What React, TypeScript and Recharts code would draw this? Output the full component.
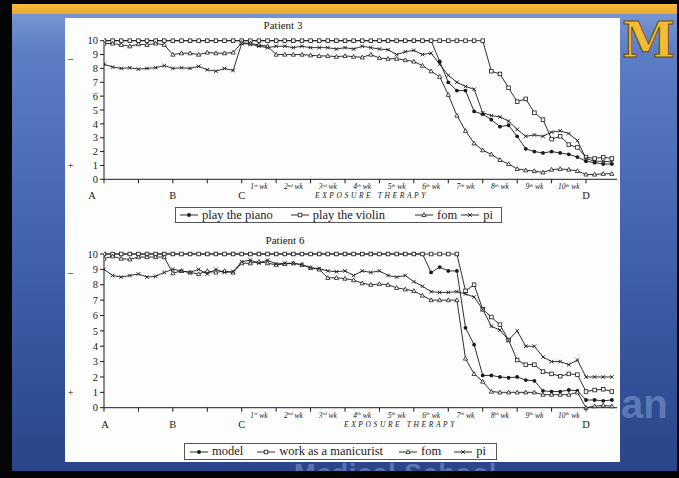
import React from 'react';
import { LineChart, Line, XAxis, YAxis } from 'recharts';

// one x unit = one tick interval (A..B..C, then one unit per therapy week)
const STEP = 0.25;

const intervalTicks = [0, 1, 2, 3, 4, 5, 6, 7, 8, 9, 10, 11, 12, 13, 14];
const weekTicks = [4.5, 5.5, 6.5, 7.5, 8.5, 9.5, 10.5, 11.5, 12.5, 13.5];
const weekNums = ['1', '2', '3', '4', '5', '6', '7', '8', '9', '10'];
const weekSuffix = ['st', 'nd', 'rd', 'th', 'th', 'th', 'th', 'th', 'th', 'th'];
const phaseTicks = [0, 2, 4, 14];
const phaseLabels = ['A', 'B', 'C', 'D'];
const yTicks = [0, 1, 2, 3, 4, 5, 6, 7, 8, 9, 10];
const sideMarkAt = [9, 1];
const sideMarkGlyph = ['\u2013', '+'];

// Patient 3 (one row per tick interval, 4 readings each)
const piano3 = [
  10, 10, 10, 10,
  10, 10, 10, 10,
  10, 10, 10, 10,
  10, 10, 10, 10,
  10, 10, 10, 10,
  10, 10, 10, 10,
  10, 10, 10, 10,
  10, 10, 10, 10,
  10, 10, 10, 10,
  10, 10, 10, 8.5,
  7.0, 6.4, 6.4, 4.9,
  4.7, 4.3, 3.8, 3.9,
  3.1, 2.2, 2.0, 1.9,
  2.0, 1.9, 1.8, 1.6,
  1.3, 1.2, 1.1, 1.1,
];
const violin3 = [
  10, 10, 10, 10,
  10, 10, 10, 10,
  10, 10, 10, 10,
  10, 10, 10, 10,
  10, 10, 10, 10,
  10, 10, 10, 10,
  10, 10, 10, 10,
  10, 10, 10, 10,
  10, 10, 10, 10,
  10, 10, 10, 10,
  10, 10, 10, 10,
  10, 7.8, 7.6, 6.6,
  5.6, 5.8, 4.8, 4.3,
  2.9, 3.1, 2.5, 2.3,
  1.6, 1.5, 1.6, 1.5,
];
const fom3 = [
  9.8, 9.8, 9.7, 9.6,
  9.75, 9.7, 9.8, 9.7,
  9.0, 9.1, 9.1, 9.0,
  9.15, 9.1, 9.1, 9.15,
  9.85, 9.8, 9.7, 9.6,
  9.0, 9.0, 9.0, 9.0,
  8.95, 8.9, 8.9, 8.85,
  8.9, 8.85, 8.8, 9.0,
  8.75, 8.7, 8.7, 8.6,
  8.5, 8.2, 7.8, 7.4,
  6.1, 4.6, 3.5, 2.6,
  2.1, 1.8, 1.4, 1.1,
  0.75, 0.65, 0.6, 0.5,
  0.7, 0.75, 0.7, 0.6,
  0.35, 0.35, 0.4, 0.4,
];
const pi3 = [
  8.3, 8.1, 8.0, 8.05,
  7.95, 8.0, 8.05, 8.2,
  8.0, 8.05, 8.0, 8.15,
  7.9, 7.8, 8.0, 7.85,
  9.8, 9.75, 9.6, 9.5,
  9.6, 9.6, 9.5, 9.6,
  9.5, 9.5, 9.5, 9.4,
  9.5, 9.4, 9.6, 9.5,
  9.4, 9.35, 9.0, 9.2,
  9.3, 9.0, 9.1, 8.3,
  7.5, 7.0, 6.7, 6.5,
  4.8, 4.6, 4.5, 4.2,
  3.6, 3.1, 3.2, 3.1,
  3.4, 3.5, 3.3, 2.8,
  1.5, 1.3, 1.3, 1.25,
];

// Patient 6
const model6 = [
  10, 10, 10, 10,
  10, 10, 10, 10,
  10, 10, 10, 10,
  10, 10, 10, 10,
  10, 10, 10, 10,
  10, 10, 10, 10,
  10, 10, 10, 10,
  10, 10, 10, 10,
  10, 10, 10, 10,
  10, 10, 8.8, 9.15,
  8.9, 8.9, 5.2, 4.1,
  2.1, 2.1, 2.0, 1.95,
  2.0, 1.8, 1.75, 1.1,
  1.05, 1.05, 1.15, 1.1,
  0.5, 0.5, 0.45, 0.5,
];
const manicurist6 = [
  10, 10, 10, 10,
  10, 10, 10, 10,
  10, 10, 10, 10,
  10, 10, 10, 10,
  10, 10, 10, 10,
  10, 10, 10, 10,
  10, 10, 10, 10,
  10, 10, 10, 10,
  10, 10, 10, 10,
  10, 10, 10, 10,
  10, 10, 7.6, 8.0,
  6.4, 5.9, 5.4, 4.4,
  3.1, 2.8, 2.8, 2.35,
  2.2, 2.05, 2.2, 2.15,
  1.05, 1.15, 1.2, 1.05,
];
const fom6 = [
  9.7, 9.85, 9.7, 9.65,
  9.8, 9.8, 9.8, 9.8,
  8.75, 8.9, 8.8, 8.7,
  8.9, 8.8, 8.9, 8.8,
  9.4, 9.4, 9.5, 9.4,
  9.3, 9.35, 9.4, 9.3,
  9.1, 9.0, 8.45, 8.45,
  8.4, 8.3, 8.1, 8.0,
  8.05, 8.0, 7.8, 7.7,
  7.6, 7.3, 7.0, 7.0,
  7.0, 7.0, 3.2, 2.2,
  1.7, 1.05, 1.0, 1.0,
  1.0, 1.0, 1.0, 0.85,
  0.85, 0.85, 0.85, 1.0,
  0.0, 0.1, 0.15, 0.1,
];
const pi6 = [
  9.0, 8.6, 8.5, 8.6,
  8.7, 8.5, 8.55, 8.8,
  9.0, 8.9, 8.8, 9.0,
  8.7, 9.0, 8.8, 8.85,
  9.5, 9.6, 9.4, 9.6,
  9.35, 9.4, 9.4, 9.3,
  9.1, 9.05, 8.9, 8.85,
  8.9, 8.6, 8.9, 8.8,
  8.9, 8.6, 8.5, 8.6,
  8.2, 7.9, 7.55, 7.5,
  7.5, 7.55, 7.4, 7.2,
  6.4, 5.3, 5.05, 4.4,
  5.0, 4.0, 4.0, 3.3,
  3.0, 3.0, 2.8, 3.1,
  2.0, 2.0, 2.0, 2.0,
];

const rows3 = piano3.map((_, i) => ({ u: i * STEP, a: piano3[i], b: violin3[i], c: fom3[i], d: pi3[i] }));
const rows6 = model6.map((_, i) => ({ u: i * STEP, a: model6[i], b: manicurist6[i], c: fom6[i], d: pi6[i] }));

type Shape = 'dot' | 'square' | 'triangle' | 'cross';

const series3 = [
  { key: 'a', name: 'play the piano', shape: 'dot' as Shape },
  { key: 'b', name: 'play the violin', shape: 'square' as Shape },
  { key: 'c', name: 'fom', shape: 'triangle' as Shape },
  { key: 'd', name: 'pi', shape: 'cross' as Shape },
];
const series6 = [
  { key: 'a', name: 'model', shape: 'dot' as Shape },
  { key: 'b', name: 'work as a manicurist', shape: 'square' as Shape },
  { key: 'c', name: 'fom', shape: 'triangle' as Shape },
  { key: 'd', name: 'pi', shape: 'cross' as Shape },
];

const INK = '#1a1a1a';
const SERIF = "'Liberation Serif', 'Times New Roman', serif";
const SANS = "'Liberation Sans', Arial, sans-serif";
const PLOT_LEFT = 104;
const PLOT_RIGHT = 617;
const Y_AXIS_W = 30;
const X_AXIS_H = 30;

function Marker({ shape, cx, cy }: { shape: Shape; cx: number; cy: number }) {
  if (shape === 'dot') return <circle cx={cx} cy={cy} r={1.9} fill={INK} />;
  if (shape === 'square')
    return <rect x={cx - 1.8} y={cy - 1.8} width={3.6} height={3.6} fill="#fff" stroke={INK} strokeWidth={0.8} />;
  if (shape === 'triangle')
    return (
      <polygon
        points={`${cx},${cy - 2.2} ${cx - 2.1},${cy + 1.6} ${cx + 2.1},${cy + 1.6}`}
        fill="#fff"
        stroke={INK}
        strokeWidth={0.8}
      />
    );
  return (
    <path
      d={`M${cx - 1.8},${cy - 1.8}L${cx + 1.8},${cy + 1.8}M${cx - 1.8},${cy + 1.8}L${cx + 1.8},${cy - 1.8}`}
      stroke={INK}
      strokeWidth={0.9}
    />
  );
}

const XTick = ({ x, y, payload, aDx }: any) => {
  const v = payload.value;
  if (Number.isInteger(v)) {
    const li = phaseTicks.indexOf(v);
    return (
      <g>
        <line x1={x} y1={y} x2={x} y2={y + 4} stroke={INK} strokeWidth={1} />
        {li >= 0 && (
          <text x={x + (li === 0 ? aDx : 0)} y={y + 20} textAnchor="middle" fontSize={10.5} fontFamily={SERIF} fill={INK}>
            {phaseLabels[li]}
          </text>
        )}
      </g>
    );
  }
  const wi = weekTicks.indexOf(v);
  return (
    <text x={x} y={y + 10} textAnchor="middle" fontSize={7.5} fontStyle="italic" fontFamily={SERIF} fill={INK}>
      {weekNums[wi]}
      <tspan fontSize={5} dy={-2.5}>{weekSuffix[wi]}</tspan>
      <tspan dy={2.5}> wk</tspan>
    </text>
  );
};

const YTick = ({ x, y, payload }: any) => {
  const v = payload.value;
  const mi = sideMarkAt.indexOf(v);
  return (
    <g>
      <text x={x} y={y} dy={3.7} textAnchor="end" fontSize={10.5} fontFamily={SERIF} fill={INK}>
        {v}
      </text>
      {mi >= 0 && (
        <text x={x - 27.5} y={y} dy={mi === 0 ? 7 : 4} textAnchor="middle" fontSize={11} fontFamily={SERIF} fill={INK}>
          {sideMarkGlyph[mi]}
        </text>
      )}
    </g>
  );
};

function PatientChart({ rows, series, top, plotTop, plotHeight, aDx, exposureDx }: any) {
  const height = 220;
  const mTop = plotTop - top;
  return (
    <div style={{ position: 'absolute', left: 0, top }}>
      <LineChart
        width={679}
        height={height}
        data={rows}
        margin={{ top: mTop, left: PLOT_LEFT - Y_AXIS_W, right: 679 - PLOT_RIGHT, bottom: height - mTop - plotHeight - X_AXIS_H }}
      >
        <XAxis
          dataKey="u"
          type="number"
          domain={[0, 14.9]}
          allowDataOverflow
          ticks={[...intervalTicks, ...weekTicks]}
          interval={0}
          height={X_AXIS_H}
          tickSize={0}
          tickMargin={0}
          tickLine={false}
          axisLine={{ stroke: INK, strokeWidth: 1 }}
          tick={(p: any) => <XTick {...p} aDx={aDx} />}
          label={{
            value: 'EXPOSURE THERAPY',
            position: 'insideBottom',
            offset: 11,
            dx: exposureDx,
            style: { fontFamily: SERIF, fontStyle: 'italic', fontSize: 7.5, letterSpacing: '2.6px', fill: INK },
          }}
        />
        <YAxis
          type="number"
          domain={[0, 10]}
          ticks={yTicks}
          interval={0}
          width={Y_AXIS_W}
          tickSize={4}
          tickMargin={2}
          axisLine={{ stroke: INK, strokeWidth: 1 }}
          tickLine={{ stroke: INK, strokeWidth: 1 }}
          tick={(p: any) => <YTick {...p} />}
        />
        {series.map((s: any) => (
          <Line
            key={s.key}
            type="linear"
            dataKey={s.key}
            name={s.name}
            stroke={INK}
            strokeWidth={0.9}
            isAnimationActive={false}
            activeDot={false}
            dot={(p: any) => (
              <g key={`${s.key}-${p.index}`}>
                <Marker shape={s.shape} cx={p.cx} cy={p.cy} />
              </g>
            )}
          />
        ))}
      </LineChart>
    </div>
  );
}

function LegendBox({ series, left, top, width, height, gaps }: any) {
  return (
    <div
      style={{
        position: 'absolute',
        left,
        top,
        width,
        height,
        boxSizing: 'border-box',
        border: '1px solid #555',
        background: '#fff',
        display: 'flex',
        alignItems: 'center',
        fontFamily: SERIF,
        fontSize: 12.5,
        color: INK,
        whiteSpace: 'nowrap',
      }}
    >
      {series.map((s: any, i: number) => (
        <div key={s.key} style={{ display: 'flex', alignItems: 'center', marginLeft: gaps[i] }}>
          <svg width={18} height={8}>
            <line x1={0} y1={4} x2={18} y2={4} stroke={INK} strokeWidth={0.9} />
            <Marker shape={s.shape} cx={9} cy={4} />
          </svg>
          <span style={{ marginLeft: 4 }}>{s.name}</span>
        </div>
      ))}
    </div>
  );
}

const titleStyle: React.CSSProperties = {
  position: 'absolute',
  width: 120,
  textAlign: 'center',
  fontFamily: SERIF,
  fontSize: 11,
  color: INK,
};

const watermark: React.CSSProperties = {
  position: 'absolute',
  fontFamily: SANS,
  fontWeight: 'bold',
  lineHeight: 1,
  color: 'rgba(170, 195, 240, 0.4)',
  whiteSpace: 'nowrap',
};

export default function App() {
  return (
    <div style={{ position: 'fixed', left: 0, top: 0, width: 679, height: 478, background: '#050505', overflow: 'hidden' }}>
      {/* slide */}
      <div
        style={{
          position: 'absolute',
          left: 12,
          top: 4,
          width: 665,
          height: 467,
          overflow: 'hidden',
          background: 'linear-gradient(180deg, #7c9bd7 0%, #5b7ec5 10%, #4567b2 45%, #34549c 75%, #2a4589 100%)',
        }}
      >
        <div style={{ position: 'absolute', left: 0, top: 0, width: 665, height: 10, background: 'linear-gradient(180deg, #f6bb45 0%, #eda72d 100%)' }} />
        {/* watermark pieces that show around the white panel */}
        <div style={{ ...watermark, left: 609, top: 380, fontSize: 40 }}>an</div>
        <div style={{ ...watermark, left: 282, top: 456, fontSize: 26, letterSpacing: '1px' }}>Medical School</div>
        <div
          style={{
            position: 'absolute',
            left: 610,
            top: 12,
            fontFamily: "'DejaVu Serif', serif",
            fontWeight: 'bold',
            fontSize: 48,
            lineHeight: '48px',
            color: '#f2bd35',
            WebkitTextStroke: '1px #6b4a10',
          }}
        >
          M
        </div>
      </div>

      {/* white panel */}
      <div style={{ position: 'absolute', left: 65, top: 18, width: 555, height: 444, background: '#fdfdfd' }} />

      <div style={{ ...titleStyle, left: 223, top: 19 }}>Patient 3</div>
      <PatientChart rows={rows3} series={series3} top={0} plotTop={40.7} plotHeight={138.6} aDx={-12} exposureDx={11} />
      <LegendBox series={series3} left={175} top={207} width={327} height={16} gaps={[4, 18, 30, 4]} />

      <div style={{ ...titleStyle, left: 225, top: 234 }}>Patient 6</div>
      <PatientChart rows={rows6} series={series6} top={230} plotTop={254} plotHeight={153.7} aDx={1} exposureDx={40} />
      <LegendBox series={series6} left={184} top={443} width={313} height={17} gaps={[5, 14, 16, 13]} />
    </div>
  );
}
